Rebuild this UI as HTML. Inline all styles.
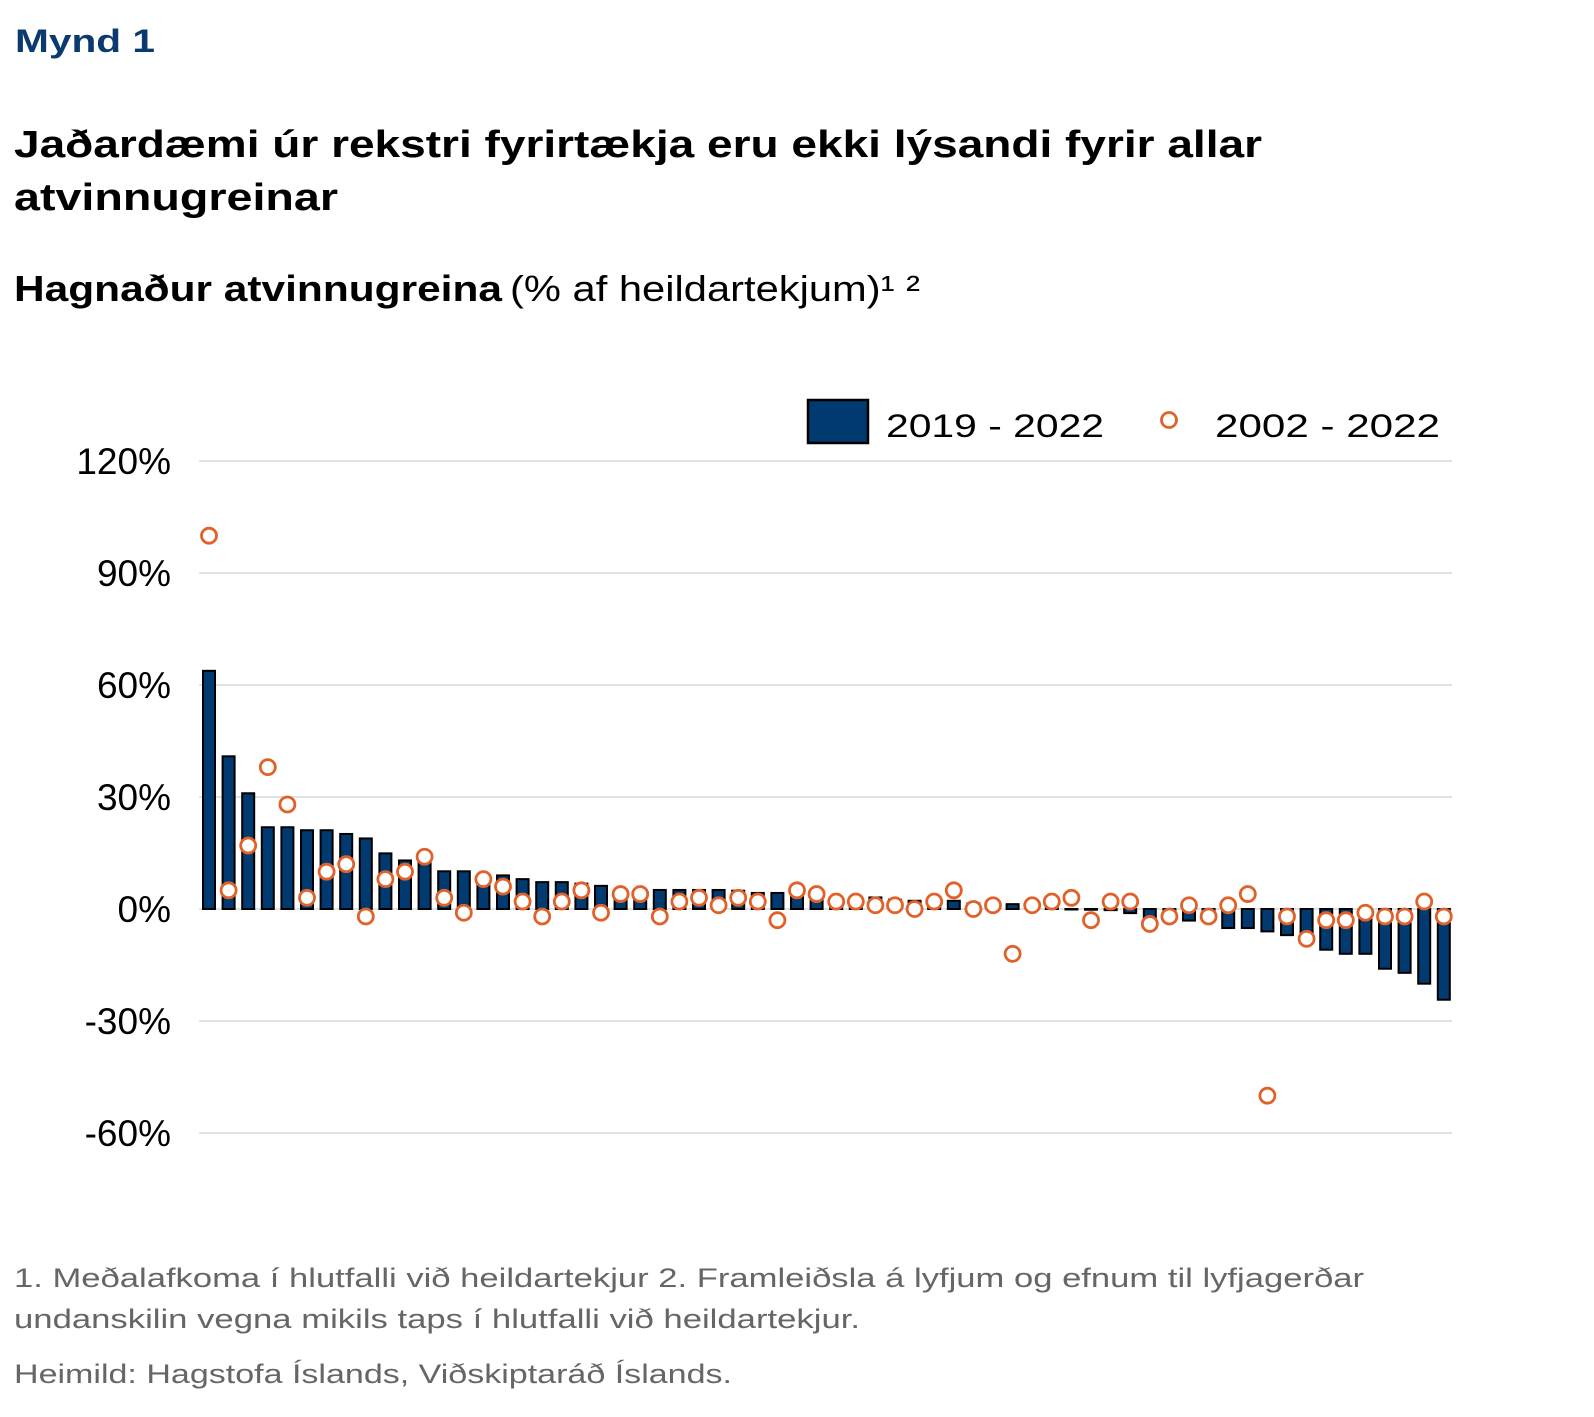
<!DOCTYPE html>
<html><head><meta charset="utf-8"><style>
html,body{margin:0;padding:0;background:#fff;}
svg{display:block;font-family:"Liberation Sans",sans-serif;}
</style></head><body>
<svg id="chart" width="1594" height="1417" viewBox="0 0 1594 1417">
<text x="15" y="52" font-size="32" font-weight="bold" fill="#0b3a6f" textLength="140" lengthAdjust="spacingAndGlyphs">Mynd 1</text>
<text x="14" y="157" font-size="38" font-weight="bold" fill="#000" textLength="1248" lengthAdjust="spacingAndGlyphs">Jaðardæmi úr rekstri fyrirtækja eru ekki lýsandi fyrir allar</text>
<text x="14" y="210" font-size="38" font-weight="bold" fill="#000" textLength="324" lengthAdjust="spacingAndGlyphs">atvinnugreinar</text>
<text x="14" y="301" font-size="36" fill="#000"><tspan font-weight="bold" textLength="488" lengthAdjust="spacingAndGlyphs">Hagnaður atvinnugreina</tspan><tspan x="510" textLength="410" lengthAdjust="spacingAndGlyphs">(% af heildartekjum)¹ ²</tspan></text>
<g id="grid"></g>
<g id="yaxis"></g>
<g id="bars"></g>
<g id="dots"></g>
<g>
<rect x="808" y="400" width="60" height="43" fill="#003a70" stroke="#000" stroke-width="2.5"/>
<text x="886" y="437" font-size="32" fill="#000" textLength="218" lengthAdjust="spacingAndGlyphs">2019 - 2022</text>
<circle cx="1169" cy="420" r="7.5" fill="#fff" stroke="#e0622a" stroke-width="2.8"/>
<text x="1215" y="437" font-size="32" fill="#000" textLength="225" lengthAdjust="spacingAndGlyphs">2002 - 2022</text>
</g>
<g fill="#666" font-size="27">
<text x="14" y="1287" textLength="1350" lengthAdjust="spacingAndGlyphs">1. Meðalafkoma í hlutfalli við heildartekjur 2. Framleiðsla á lyfjum og efnum til lyfjagerðar</text>
<text x="14" y="1328" textLength="846" lengthAdjust="spacingAndGlyphs">undanskilin vegna mikils taps í hlutfalli við heildartekjur.</text>
<text x="14" y="1383" textLength="718" lengthAdjust="spacingAndGlyphs">Heimild: Hagstofa Íslands, Viðskiptaráð Íslands.</text>
</g>
</svg>
<script>
const yTicks = [120, 90, 60, 30, 0, -30, -60];
const yTickLabels = ["120%", "90%", "60%", "30%", "0%", "-30%", "-60%"];
const bars2019 = [63.8,40.9,31,21.9,21.9,21.1,21.1,20.1,18.9,14.9,13,13,10.1,10.1,9,9,8,7.2,7.2,6.8,6.2,5,5,5.1,5.1,5.1,5.1,4.9,4.3,4.3,4.9,3.6,3,3,3.1,2.5,2.2,2,2.2,1.5,0.3,1.3,0.3,0.2,0,-0.2,-0.3,-1.1,-3,-1.5,-3.1,-0.5,-5.1,-5.1,-6,-7,-7.5,-10.9,-12,-12,-16,-17.1,-20,-24.3];
const dots2002 = [100,5,17,38,28,3,10,12,-2,8,10,14,3,-1,8,6,2,-2,2,5,-1,4,4,-2,2,3,1,3,2,-3,5,4,2,2,1,1,0,2,5,0,1,-12,1,2,3,-3,2,2,-4,-2,1,-2,1,4,-50,-2,-8,-3,-3,-1,-2,-2,2,-2];
const NS = "http://www.w3.org/2000/svg";
const plotL = 199, plotR = 1452, zeroY = 909, pxPerPct = 112/30;
const firstX = 209, step = 19.6, barW = 12;
function yScale(v){ return zeroY - v*pxPerPct; }
function xScale(i){ return firstX + i*step; }
const grid = document.getElementById('grid'), yaxis = document.getElementById('yaxis');
yTicks.forEach((t,k)=>{
  const l = document.createElementNS(NS,'line');
  l.setAttribute('x1',plotL); l.setAttribute('x2',plotR);
  l.setAttribute('y1',yScale(t)); l.setAttribute('y2',yScale(t));
  l.setAttribute('stroke','#d0d0d0'); l.setAttribute('stroke-width','1.3');
  
  
  grid.appendChild(l);
  const tx = document.createElementNS(NS,'text');
  tx.setAttribute('x',171); tx.setAttribute('y',yScale(t)+13);
  tx.setAttribute('text-anchor','end'); tx.setAttribute('font-size','37'); tx.setAttribute('fill','#000');
  tx.textContent = yTickLabels[k];
  
  
  yaxis.appendChild(tx);
});
const bg = document.getElementById('bars');
bars2019.forEach((v,i)=>{
  const r = document.createElementNS(NS,'rect');
  const y0 = yScale(Math.max(v,0)), y1 = yScale(Math.min(v,0));
  r.setAttribute('x', xScale(i)-barW/2); r.setAttribute('width', barW);
  r.setAttribute('y', y0); r.setAttribute('height', Math.max(y1-y0,0.5));
  r.setAttribute('fill','#003a70'); r.setAttribute('stroke','#000'); r.setAttribute('stroke-width','2');
  
  
  bg.appendChild(r);
});
const dg = document.getElementById('dots');
dots2002.forEach((v,i)=>{
  const c = document.createElementNS(NS,'circle');
  c.setAttribute('cx', xScale(i)); c.setAttribute('cy', yScale(v)); c.setAttribute('r', 7.5);
  c.setAttribute('fill','#fff'); c.setAttribute('stroke','#e0622a'); c.setAttribute('stroke-width','2.8');
  
  
  dg.appendChild(c);
});
</script>
</body></html>
